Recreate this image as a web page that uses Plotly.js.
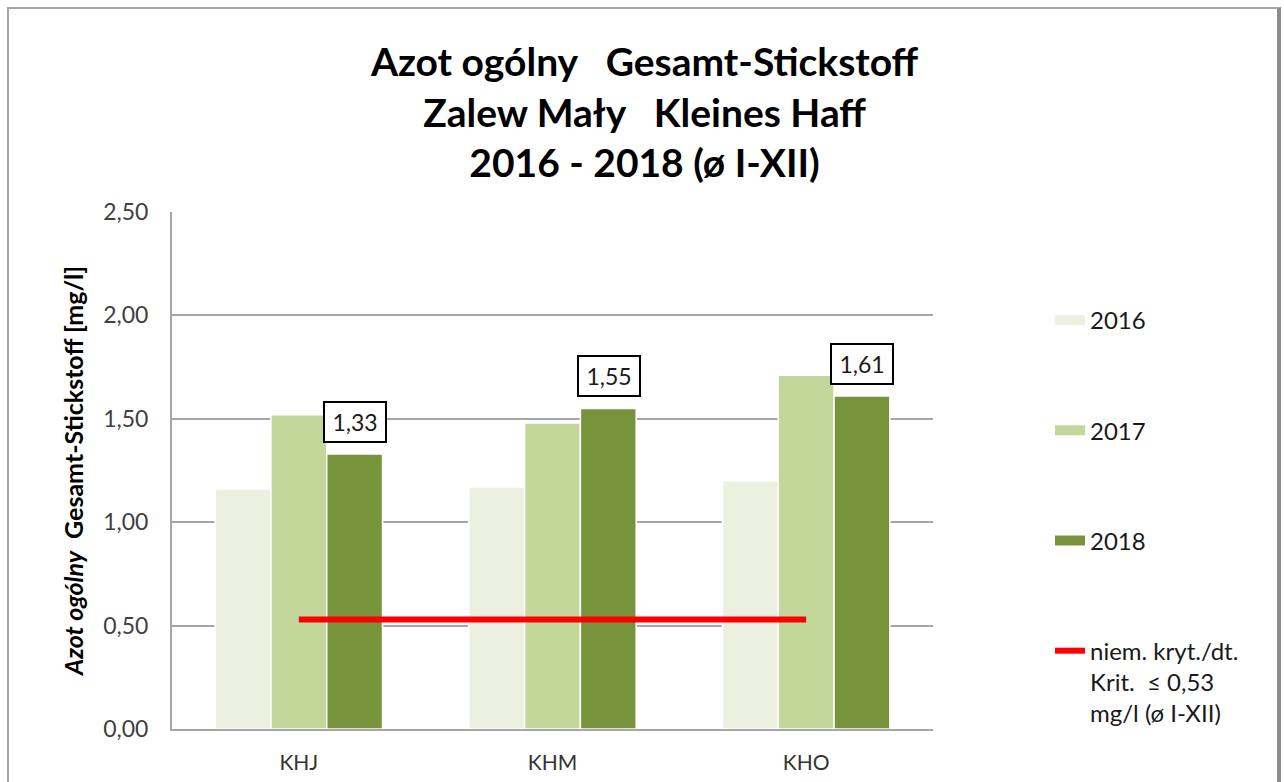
<!DOCTYPE html>
<html>
<head>
<meta charset="utf-8">
<script src="https://cdn.plot.ly/plotly-3.0.1.min.js"></script>
<style>
  html, body { margin: 0; padding: 0; background: #ffffff; overflow: hidden; }
  #wrap { position: relative; width: 1284px; height: 782px; }
  #chart { width: 1284px; height: 782px; }
  #frame { position: absolute; left: 7px; top: 7px; width: 1268px; height: 800px;
           border-left: 2px solid #a6a6a6; border-top: 2px solid #a6a6a6;
           border-right: 4px solid #8c8c8c; pointer-events: none; }
</style>
</head>
<body>
<div id="wrap">
  <div id="chart"></div>
  <div id="frame"></div>
</div>
<script>
// ---- data ----
const categories = ['KHJ', 'KHM', 'KHO'];
const years = ['2016', '2017', '2018'];
const values2016 = [1.16, 1.17, 1.20];
const values2017 = [1.52, 1.48, 1.71];
const values2018 = [1.33, 1.55, 1.61];
const criterionValues = [0.53, 0.53, 0.53];
const criterionName = 'niem. kryt./dt.<br>Krit.\u00a0\u00a0≤ 0,53<br>mg/l (ø I-XII)';
const yTickValues = [0, 0.5, 1.0, 1.5, 2.0, 2.5];
const titleLines = ['Azot ogólny\u00a0\u00a0 Gesamt-Stickstoff', 'Zalew Mały\u00a0\u00a0 Kleines Haff', '2016 - 2018 (ø I-XII)'];
const yTitle = '<i>Azot ogólny</i>\u00a0\u00a0Gesamt-Stickstoff [mg/l]';

// ---- styles ----
const colors = ['#ebf1de', '#c4d79b', '#77933c'];
const FONT = 'Lato, "Open Sans", sans-serif';
const seriesValues = [values2016, values2017, values2018];

const traces = [];
seriesValues.forEach((vals, i) => {
  traces.push({
    type: 'bar', x: categories, y: vals, name: years[i],
    marker: { color: colors[i], line: { color: '#ffffff', width: 1.5 } },
    showlegend: false, hoverinfo: 'x+y+name'
  });
});
// legend swatches (wide bars like the original)
years.forEach((yr, i) => {
  traces.push({
    type: 'scatter', mode: 'lines', x: [null], y: [null], name: yr,
    legendgroup: 'g' + i, showlegend: true,
    line: { color: colors[i], width: 12 }, hoverinfo: 'skip'
  });
});
traces.push({
  type: 'scatter', mode: 'lines', x: categories, y: criterionValues,
  name: criterionName, legendgroup: 'g3',
  line: { color: '#ff0000', width: 6 }, hoverinfo: 'y'
});

const fmt = v => v.toFixed(2).replace('.', ',');
const annotations = categories.map((c, i) => ({
  x: c, y: values2018[i], xref: 'x', yref: 'y',
  text: fmt(values2018[i]), showarrow: false,
  xshift: 56, yshift: 11, yanchor: 'bottom',
  font: { family: FONT, size: 23, color: '#1a1a1a' },
  bgcolor: '#ffffff', bordercolor: '#000000', borderwidth: 2, borderpad: 3,
  width: 54, height: 32
}));

const layout = {
  width: 1284, height: 782,
  paper_bgcolor: '#ffffff', plot_bgcolor: '#ffffff',
  separators: ',.',
  margin: { l: 172, r: 351, t: 212, b: 53, autoexpand: false },
  font: { family: FONT, color: '#404040' },
  title: {
    text: titleLines.join('<br>'),
    font: { family: FONT, size: 39, color: '#000000', weight: 700 },
    x: 0.502, xref: 'container', xanchor: 'center',
    y: 1 - 76 / 782, yref: 'container', yanchor: 'top'
  },
  barmode: 'group', bargap: 0.34, bargroupgap: 0.0,
  xaxis: {
    type: 'category', categoryorder: 'array', categoryarray: categories,
    showgrid: false, showline: true, linecolor: '#a6a6a6', linewidth: 2,
    ticks: '', tickfont: { family: FONT, size: 21, color: '#333333' },
    ticklabelstandoff: 14, zeroline: false
  },
  yaxis: {
    range: [0, 2.5], tickvals: yTickValues, tickformat: '.2f',
    showgrid: true, gridcolor: '#a6a6a6', gridwidth: 2,
    showline: true, linecolor: '#a6a6a6', linewidth: 2, zeroline: false,
    ticks: '', ticklabelstandoff: 17,
    tickfont: { family: FONT, size: 23, color: '#404040' },
    title: { text: yTitle, font: { family: FONT, size: 25, color: '#000000', weight: 700 }, standoff: 12 }
  },
  legend: {
    xref: 'container', yref: 'container',
    x: 1050 / 1284, y: 1 - 298 / 782, xanchor: 'left', yanchor: 'top',
    font: { family: FONT, size: 24, color: '#1a1a1a' },
    traceorder: 'grouped', tracegroupgap: 76, valign: 'top',
    maxheight: 720,
    bgcolor: 'rgba(0,0,0,0)', borderwidth: 0
  },
  annotations: annotations,
  showlegend: true
};

Plotly.newPlot('chart', traces, layout, { displayModeBar: false, staticPlot: true });
</script>
</body>
</html>
